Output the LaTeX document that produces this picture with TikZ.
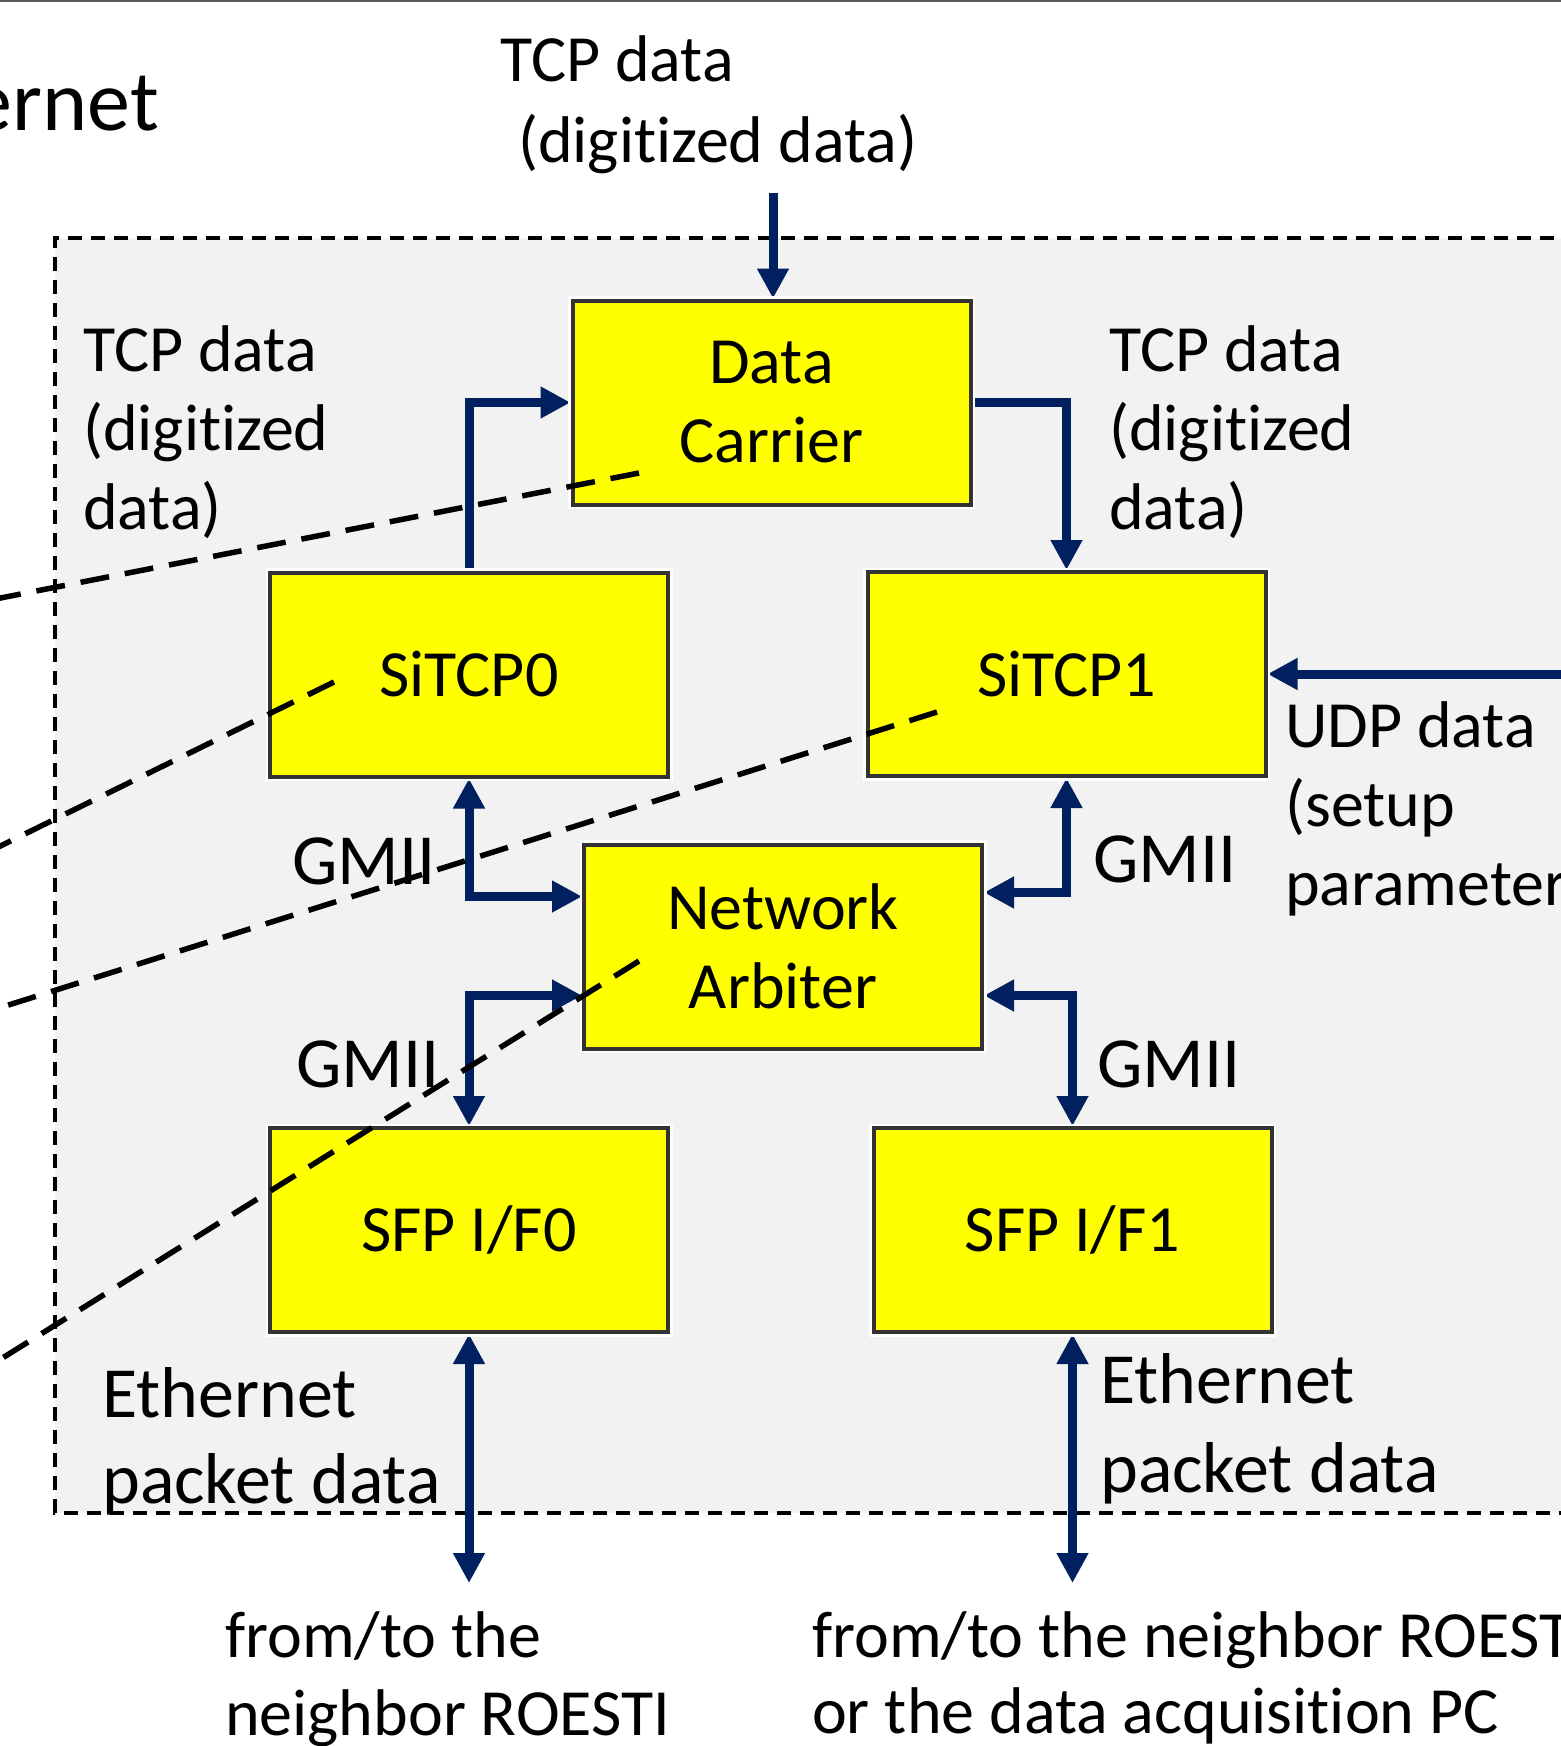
\documentclass[tikz,border=0pt]{standalone}
\usepackage{fontspec}
\setmainfont{Carlito}[Ligatures=NoCommon]
\usetikzlibrary{arrows.meta,calc}
\pgfdeclarelayer{back}
\pgfdeclarelayer{links}
\pgfsetlayers{back,links,main}
\definecolor{navy}{HTML}{002060}
\definecolor{panel}{HTML}{F2F2F2}
\definecolor{boxline}{HTML}{333333}
\definecolor{boxfill}{HTML}{FFFF00}

\begin{document}
\begin{tikzpicture}[x=1pt,y=-1pt,
  >={Triangle[width=30pt,length=30pt]},
  block/.style={draw=boxline, line width=4pt, fill=boxfill,
    preaction={draw=white, line width=9pt},
    minimum width=398pt, minimum height=204pt, inner sep=0pt,
    align=center, font=\fontsize{66}{79}\selectfont},
  link/.style={draw=navy, line width=9pt, line join=miter},
  callout/.style={draw=black, line width=5.5pt, dash pattern=on 29pt off 16pt},
  lab/.style={anchor=base west, inner sep=0pt, font=\fontsize{66}{79}\selectfont},
  biglab/.style={anchor=base west, inner sep=0pt, font=\fontsize{72}{86}\selectfont}]

\useasboundingbox (0,0) rectangle (1561,1746);
\clip (0,0) rectangle (1561,1746);

% rule along the upper edge and the heading word
\draw[line width=2.5pt, black!65] (0,1) -- (1561,1);
\node[anchor=base east, inner sep=0pt, font=\fontsize{86}{100}\selectfont] (heading) at (159,130) {Ethernet};

% the shaded FPGA panel
\begin{pgfonlayer}{back}
  \fill[panel] (55,238) rectangle (1600,1513);
  \draw[line width=3.2pt, dash pattern=on 14pt off 9pt] (1600,238) -- (55,238) -- (55,1513) -- (1600,1513);
\end{pgfonlayer}

% functional blocks
\node[block] (dc) at (771.5,402.5) {Data\\Carrier};
\node[block] (s0) at (469,674.5) {SiTCP0};
\node[block] (s1) at (1066.5,674) {SiTCP1};
\node[block] (na) at (783,946.5) {Network\\Arbiter};
\node[block] (f0) at (469,1230) {SFP I/F0};
\node[block] (f1) at (1072.5,1230) {SFP I/F1};

% free ends of the data paths
\coordinate (tin) at (773,193);
\coordinate (uin) at (1600,674);
\coordinate (e0) at (469,1583);
\coordinate (e1) at (1072.5,1583);

% data paths
\begin{pgfonlayer}{links}
  \draw[link,->] (tin) -- (tin |- dc.north);
  \draw[link,->] (s0.north) |- (dc.west);
  \draw[link,->] (dc.east) -| (s1.north);
  \draw[link,->] (uin) -- (s1.east);
  \draw[link,<->] (s0.south) |- ([yshift=50pt]na.west);
  \draw[link,<->] (s1.south) |- ([yshift=54pt]na.east);
  \draw[link,<->] ([yshift=-49pt]na.west) -| (f0.north);
  \draw[link,<->] ([yshift=-49pt]na.east) -| (f1.north);
  \draw[link,<->] (f0.south) -- (e0);
  \draw[link,<->] (f1.south) -- (e1);
\end{pgfonlayer}

% labels
\node[lab] (t1a) at (500,81) {TCP data};
\node[lab] (t1b) at (518,162) {(digitized data)};

\node[lab] (t2a) at (83,371) {TCP data};
\node[lab] (t2b) at (83,450) {(digitized};
\node[lab] (t2c) at (83,529) {data)};

\node[lab] (t3a) at (1109,371) {TCP data};
\node[lab] (t3b) at (1109,450) {(digitized};
\node[lab] (t3c) at (1109,529) {data)};

\node[lab] (u1) at (1285,747) {UDP data};
\node[lab] (u2) at (1285,826) {(setup};
\node[lab] (u3) at (1285,905) {parameters)};

\node[biglab] (g1) at (292,884) {GMII};
\node[biglab] (g2) at (1093,882) {GMII};
\node[biglab] (g3) at (296,1087) {GMII};
\node[biglab] (g4) at (1097,1087) {GMII};

\node[biglab] (p1a) at (102,1417) {Ethernet};
\node[biglab] (p1b) at (102,1503) {packet data};
\node[biglab] (p2a) at (1100,1403) {Ethernet};
\node[biglab] (p2b) at (1100,1492) {packet data};

\node[lab] (n1a) at (225,1657) {from/to the};
\node[lab] (n1b) at (225,1735) {neighbor ROESTI};
\node[lab] (n2a) at (812,1657) {from/to the neighbor ROESTI};
\node[lab] (n2b) at (812,1733) {or the data acquisition PC};

% callout lines leading off to the left
\coordinate (c1a) at (-20,602);   \coordinate (c1b) at (639,473);
\coordinate (c2a) at (-20,856);   \coordinate (c2b) at (334,682);
\coordinate (c3a) at (-20,1014);  \coordinate (c3b) at (937,712);
\coordinate (c4a) at (-20,1372);  \coordinate (c4b) at (639,961);
\draw[callout] (c1b) -- (c1a);
\draw[callout] (c2b) -- (c2a);
\draw[callout] (c3b) -- (c3a);
\draw[callout] (c4b) -- (c4a);
\end{tikzpicture}
\end{document}
